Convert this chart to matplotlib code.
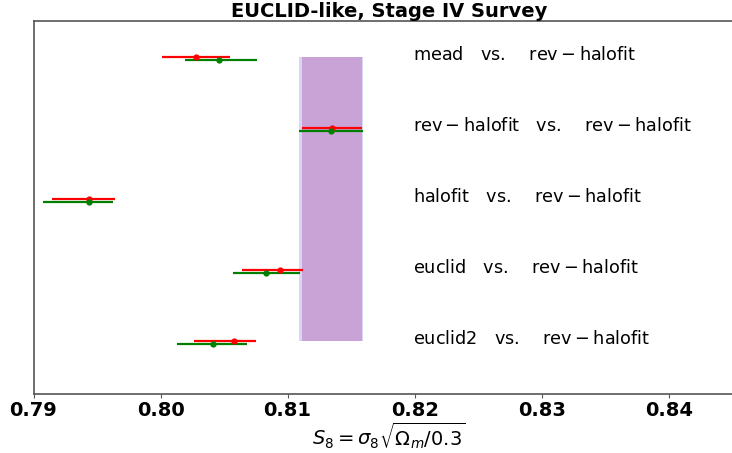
import numpy as np
import matplotlib.pyplot as plt

# S8 constraints for each model combination (two runs per combination)
labels = ['mead', 'rev-halofit', 'halofit', 'euclid', 'euclid2']
reference = 'rev-halofit'

s8_run1 = [0.8028, 0.8135, 0.7944, 0.8094, 0.8058]
s8_run1_lo = [0.00268, 0.00239, 0.00291, 0.00299, 0.00315]
s8_run1_hi = [0.00268, 0.00234, 0.00202, 0.00179, 0.00173]

s8_run2 = [0.8046, 0.8134, 0.7944, 0.8083, 0.8041]
s8_run2_lo = [0.00265, 0.00250, 0.00368, 0.00260, 0.00278]
s8_run2_hi = [0.00297, 0.00254, 0.00189, 0.00265, 0.00268]

rows = np.arange(len(labels), 0, -1)
offset = 0.042

fig = plt.figure(figsize=(7.32, 4.53), dpi=100)
ax = fig.add_axes([33.5 / 732, 59 / 453, 711.5 / 732, 373 / 453])

# band for the reference model
iref = labels.index(reference)
ax.fill_betweenx([rows[-1], rows[0]],
                 s8_run2[iref] - s8_run2_lo[iref], s8_run2[iref] + s8_run2_hi[iref],
                 color='#d8d5f6', lw=0, zorder=1)
ax.fill_betweenx([rows[-1], rows[0]],
                 s8_run1[iref] - s8_run1_lo[iref], s8_run1[iref] + s8_run1_hi[iref],
                 color='#c9a2d6', lw=0, zorder=1)

ax.errorbar(s8_run1, rows, xerr=[s8_run1_lo, s8_run1_hi], fmt='o', color='red',
            ms=3.5, elinewidth=1.6, capsize=0, zorder=3)
ax.errorbar(s8_run2, rows - offset, xerr=[s8_run2_lo, s8_run2_hi], fmt='o', color='green',
            ms=3.5, elinewidth=1.6, capsize=0, zorder=3)

for lab, y in zip(labels, rows):
    txt = r'$\mathrm{' + lab + r'\ \ \ vs.\ \ \ \,' + reference + '}$'
    ax.text(0.8199, y + 0.03, txt, fontsize=12.7, va='center', ha='left')

ax.set_xlim(0.79, 0.846)
ax.set_ylim(0.254, 5.507)
ax.set_xticks([0.79, 0.80, 0.81, 0.82, 0.83, 0.84])
ax.set_xticklabels(['0.79', '0.80', '0.81', '0.82', '0.83', '0.84'], fontsize=14, fontweight='bold')
ax.set_yticks([])
ax.set_xlabel(r'$S_8=\sigma_8\sqrt{\Omega_m/0.3}$', fontsize=14, labelpad=0)
ax.set_title('EUCLID-like, Stage IV Survey', fontsize=14, fontweight='bold', pad=2)

for sp in ax.spines.values():
    sp.set_color('#555555')
    sp.set_linewidth(1.2)
ax.spines['right'].set_visible(False)
ax.tick_params(axis='x', color='#555555', length=3, pad=2)

fig.savefig('out.png', dpi=100)
